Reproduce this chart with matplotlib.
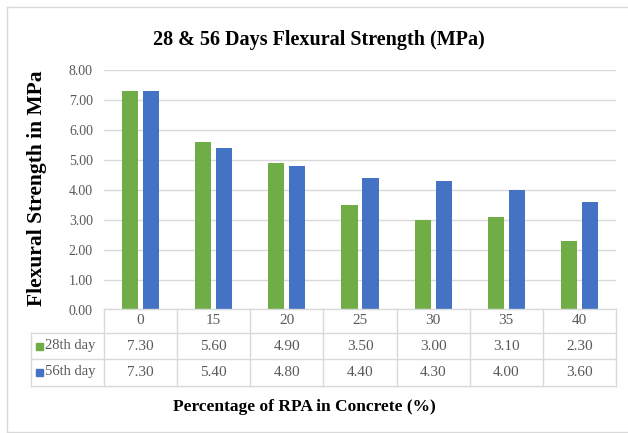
import matplotlib
matplotlib.use("Agg")
import matplotlib.pyplot as plt
import matplotlib.transforms as mtransforms
from matplotlib.lines import Line2D
from matplotlib.patches import Rectangle
import numpy as np

categories = ["0", "15", "20", "25", "30", "35", "40"]
day28 = [7.30, 5.60, 4.90, 3.50, 3.00, 3.10, 2.30]
day56 = [7.30, 5.40, 4.80, 4.40, 4.30, 4.00, 3.60]
series_names = ["28th day", "56th day"]
yticks = [0, 1, 2, 3, 4, 5, 6, 7, 8]

GREEN = "#70AD47"
BLUE = "#4472C4"
GRID = "#D9D9D9"
TXT = "#595959"

plt.rcParams['font.family'] = ['Liberation Serif', 'DejaVu Serif']

W, H = 628, 433
fig = plt.figure(figsize=(W / 100, H / 100), dpi=100)

def fx(x):
    return x / W

def fy(y):
    return 1 - y / H

# plot area in pixels
left, right, top, bottom = 104, 616, 70, 310
ax = fig.add_axes([fx(left), fy(bottom), (right - left) / W, (bottom - top) / H])

x = np.arange(len(categories))
bw = 0.22
ax.bar(x - 0.143, day28, bw, color=GREEN, zorder=3)
ax.bar(x + 0.143, day56, bw, color=BLUE, zorder=3)

ax.set_xlim(-0.5, len(categories) - 0.5)
ax.set_ylim(0, 8)
ax.set_yticks(yticks)
ax.set_yticklabels(["%.2f" % v for v in yticks], color=TXT, fontsize=10)
ax.tick_params(axis='y', length=0, pad=8)
ax.set_xticks([])
ax.grid(axis='y', color=GRID, linewidth=1, zorder=0)
for s in ax.spines.values():
    s.set_visible(False)

# data table below the axis
def hline(y, x0, x1):
    fig.add_artist(Line2D([fx(x0), fx(x1)], [fy(y), fy(y)], color=GRID, lw=1))

def vline(x, y0, y1):
    fig.add_artist(Line2D([fx(x), fx(x)], [fy(y0), fy(y1)], color=GRID, lw=1))

row_y = [309, 333, 359, 386]
leg_left = 31
hline(row_y[0], left, right)
for y in row_y[1:]:
    hline(y, leg_left, right)
vline(leg_left, row_y[1], row_y[3])
colw = (right - left) / len(categories)
for k in range(len(categories) + 1):
    vline(left + k * colw, row_y[0], row_y[3])

blend = mtransforms.blended_transform_factory(ax.transData, fig.transFigure)
for i, c in enumerate(categories):
    fig.text(i, fy(321), c, transform=blend, ha='center', va='center',
             fontsize=11, color=TXT)
    fig.text(i, fy(346), "%.2f" % day28[i], transform=blend, ha='center',
             va='center', fontsize=11, color=TXT)
    fig.text(i, fy(372), "%.2f" % day56[i], transform=blend, ha='center',
             va='center', fontsize=11, color=TXT)

for name, col, yc in zip(series_names, [GREEN, BLUE], [346, 372]):
    fig.add_artist(Rectangle((fx(36), fy(yc + 3.5)), 7 / W, 7 / H,
                             color=col, transform=fig.transFigure))
    fig.text(fx(45), fy(yc), name, ha='left', va='center', fontsize=10.5,
             color=TXT)

# titles
fig.text(fx(319), fy(40), "28 & 56 Days Flexural Strength (MPa)", ha='center',
         va='center', fontsize=14.5, fontweight='bold', color='black')
fig.text(fx(304), fy(407), "Percentage of RPA in Concrete (%)", ha='center',
         va='center', fontsize=12.5, fontweight='bold', color='black')
fig.text(fx(37), fy(188), "Flexural Strength in MPa", ha='center',
         va='center', rotation=90, fontsize=15.5, fontweight='bold',
         color='black')

# chart border
hline(7, 7, W)
hline(432, 7, W)
vline(7, 7, 432)

fig.savefig("out.png", dpi=100)
